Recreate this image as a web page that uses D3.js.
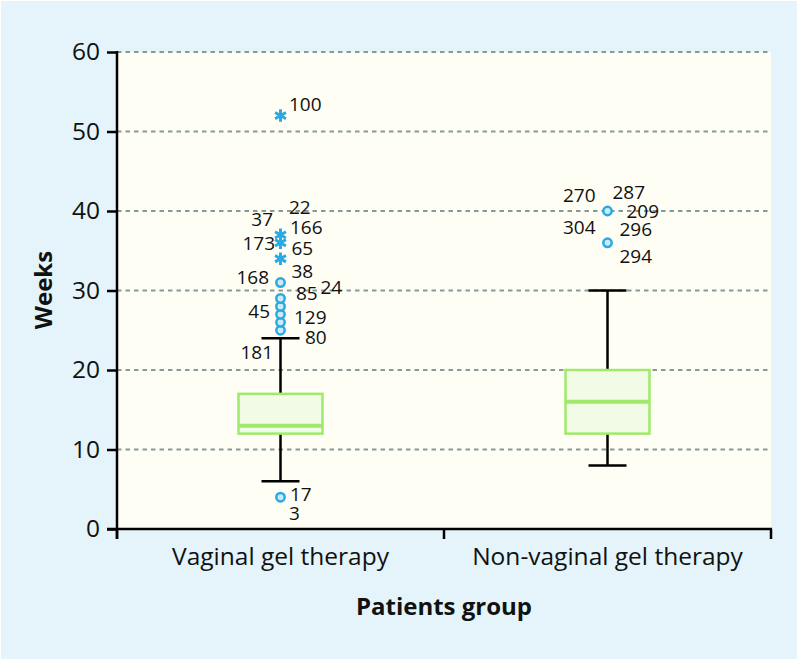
<!DOCTYPE html>
<html><head><meta charset="utf-8">
<script src="https://cdn.jsdelivr.net/npm/d3@7"></script>
<style>
html,body{margin:0;padding:0;background:#fff;}
svg{display:block;}
text{font-family:"Open Sans",sans-serif;}
</style></head>
<body>
<svg id="c" width="800" height="661"></svg>
<script>
// ---- data ----
const categories = ["Vaginal gel therapy", "Non-vaginal gel therapy"];
const whiskerLow = [6, 8];
const q1 = [12, 12];
const median = [13, 16];
const q3 = [17, 20];
const whiskerHigh = [24, 30];
// mild outliers (circles) and extreme outliers (stars)
const circleOutliers = [[4, 25, 26, 27, 28, 29, 31], [36, 40]];
const starOutliers = [[34, 36, 37, 52], []];
// case labels: text, group index, value of the point they annotate
const labelText   = ["100","22","37","166","173","65","38","168","85","24","45","129","80","181","17","3",
                     "270","287","209","304","296","294"];
const labelGroup  = [0,0,0,0,0,0,0,0,0,0,0,0,0,0,0,0, 1,1,1,1,1,1];
const labelAnchor = [52,37,37,37,36,36,34,31,29,29,28,27,24,24,4,4, 40,40,40,40,40,36];
const yTicks = [0, 10, 20, 30, 40, 50, 60];
const yTitle = "Weeks";
const xTitle = "Patients group";

// ---- layout (offsets of labels from their points) ----
const labelLayout = [
  [8.5,-12,"start"],[8.5,-28,"start"],[-7.5,-15.6,"end"],[9.5,-8.2,"start"],[-5.5,0.5,"end"],
  [11,5.5,"start"],[11,12,"start"],[-11.5,-5.8,"end"],[15.5,-5.2,"start"],[40,-11.2,"start"],
  [-10.5,4.6,"end"],[13.5,2.3,"start"],[24.5,-0.9,"start"],[-7.5,13.5,"end"],[9.5,-2.9,"start"],
  [8.5,16.1,"start"],
  [-12,-16,"end"],[5,-19,"start"],[19,0,"start"],[-12,16,"end"],[12,18,"start"],[12,13.2,"start"]
];

(function(){
const svg = d3.select("#c");
const pL = 117, pR = 771, pT = 52, pB = 529;

svg.append("rect").attr("x",1).attr("y",1).attr("width",796).attr("height",658).attr("fill","#e4f4fa");
svg.append("rect").attr("x",pL).attr("y",pT).attr("width",pR-pL).attr("height",pB-pT).attr("fill","#fffef4");

const x = d3.scaleBand().domain(categories).range([pL, pR]).padding(0);
const y = d3.scaleLinear().domain([0, 60]).range([pB, pT]);

// grid
svg.append("g").selectAll("line").data(yTicks.filter(d=>d>0)).join("line")
  .attr("x1", pL).attr("x2", pR)
  .attr("y1", d=>y(d)).attr("y2", d=>y(d))
  .attr("stroke","#889999").attr("stroke-width",2).attr("stroke-dasharray","4.5,4");

// y axis
const yAxis = svg.append("g").attr("transform",`translate(${pL},0)`)
  .call(d3.axisLeft(y).tickValues(yTicks).tickSize(10).tickPadding(7));
yAxis.select(".domain").remove();
yAxis.selectAll(".tick line").attr("stroke","#000").attr("stroke-width",2.5);
yAxis.selectAll(".tick text").attr("font-size",24.5).attr("fill","#111").attr("font-family","Open Sans, sans-serif");
svg.append("line").attr("x1",pL).attr("x2",pL).attr("y1",pT-1).attr("y2",pB+10)
  .attr("stroke","#000").attr("stroke-width",2.5);

// x axis
svg.append("line").attr("x1",pL-10).attr("x2",pR+1).attr("y1",pB).attr("y2",pB)
  .attr("stroke","#000").attr("stroke-width",2.5);
const edges = [x.range()[0]].concat(categories.map(c => x(c) + x.bandwidth()));
svg.append("g").selectAll("line").data(edges).join("line")
  .attr("x1",d=>d).attr("x2",d=>d).attr("y1",pB).attr("y2",pB+10)
  .attr("stroke","#000").attr("stroke-width",2.5);
svg.append("g").selectAll("text").data(categories).join("text")
  .attr("x", d=>x(d)+x.bandwidth()/2).attr("y", 555)
  .attr("text-anchor","middle").attr("dominant-baseline","central")
  .attr("font-size",24.5).attr("fill","#111").text(d=>d);

// titles
svg.append("text").attr("x",(pL+pR)/2).attr("y",605)
  .attr("text-anchor","middle").attr("dominant-baseline","central")
  .attr("font-size",24).attr("font-weight","bold").attr("fill","#111").text(xTitle);
svg.append("text").attr("transform","translate(42,290) rotate(-90)")
  .attr("text-anchor","middle").attr("dominant-baseline","central")
  .attr("font-size",24).attr("font-weight","bold").attr("fill","#111").text(yTitle);

// boxes
const boxW = 84, capW = 38;
const g = svg.append("g");
categories.forEach((c, i) => {
  const cx = x(c) + x.bandwidth()/2;
  g.append("line").attr("x1",cx).attr("x2",cx).attr("y1",y(q3[i])).attr("y2",y(whiskerHigh[i]))
    .attr("stroke","#000").attr("stroke-width",2.5);
  g.append("line").attr("x1",cx).attr("x2",cx).attr("y1",y(q1[i])).attr("y2",y(whiskerLow[i]))
    .attr("stroke","#000").attr("stroke-width",2.5);
  [whiskerHigh[i], whiskerLow[i]].forEach(v => {
    g.append("line").attr("x1",cx-capW/2).attr("x2",cx+capW/2).attr("y1",y(v)).attr("y2",y(v))
      .attr("stroke","#000").attr("stroke-width",2.5);
  });
  g.append("rect").attr("x",cx-boxW/2).attr("width",boxW)
    .attr("y",y(q3[i])).attr("height",y(q1[i])-y(q3[i]))
    .attr("fill","#f2fbe6").attr("stroke","#9fea6c").attr("stroke-width",2.5);
  g.append("line").attr("x1",cx-boxW/2).attr("x2",cx+boxW/2).attr("y1",y(median[i])).attr("y2",y(median[i]))
    .attr("stroke","#9fea6c").attr("stroke-width",4);
  g.append("g").selectAll("circle").data(circleOutliers[i]).join("circle")
    .attr("cx",cx).attr("cy",d=>y(d)).attr("r",4.2)
    .attr("fill","#c9ecfa").attr("stroke","#2aa9e2").attr("stroke-width",2.5);
  g.append("g").selectAll("path").data(starOutliers[i]).join("path")
    .attr("transform",d=>`translate(${cx},${y(d)})`)
    .attr("d", d3.symbol(d3.symbolAsterisk, 110)())
    .attr("fill","none").attr("stroke","#2aa9e2").attr("stroke-width",3);
});

// labels
svg.append("g").selectAll("text").data(labelText).join("text")
  .attr("x",(d,i)=> x(categories[labelGroup[i]]) + x.bandwidth()/2 + labelLayout[i][0])
  .attr("y",(d,i)=> y(labelAnchor[i]) + labelLayout[i][1])
  .attr("text-anchor",(d,i)=>labelLayout[i][2])
  .attr("dominant-baseline","central")
  .attr("font-size",19).attr("fill","#111").text(d=>d);
})();
</script>
</body></html>
